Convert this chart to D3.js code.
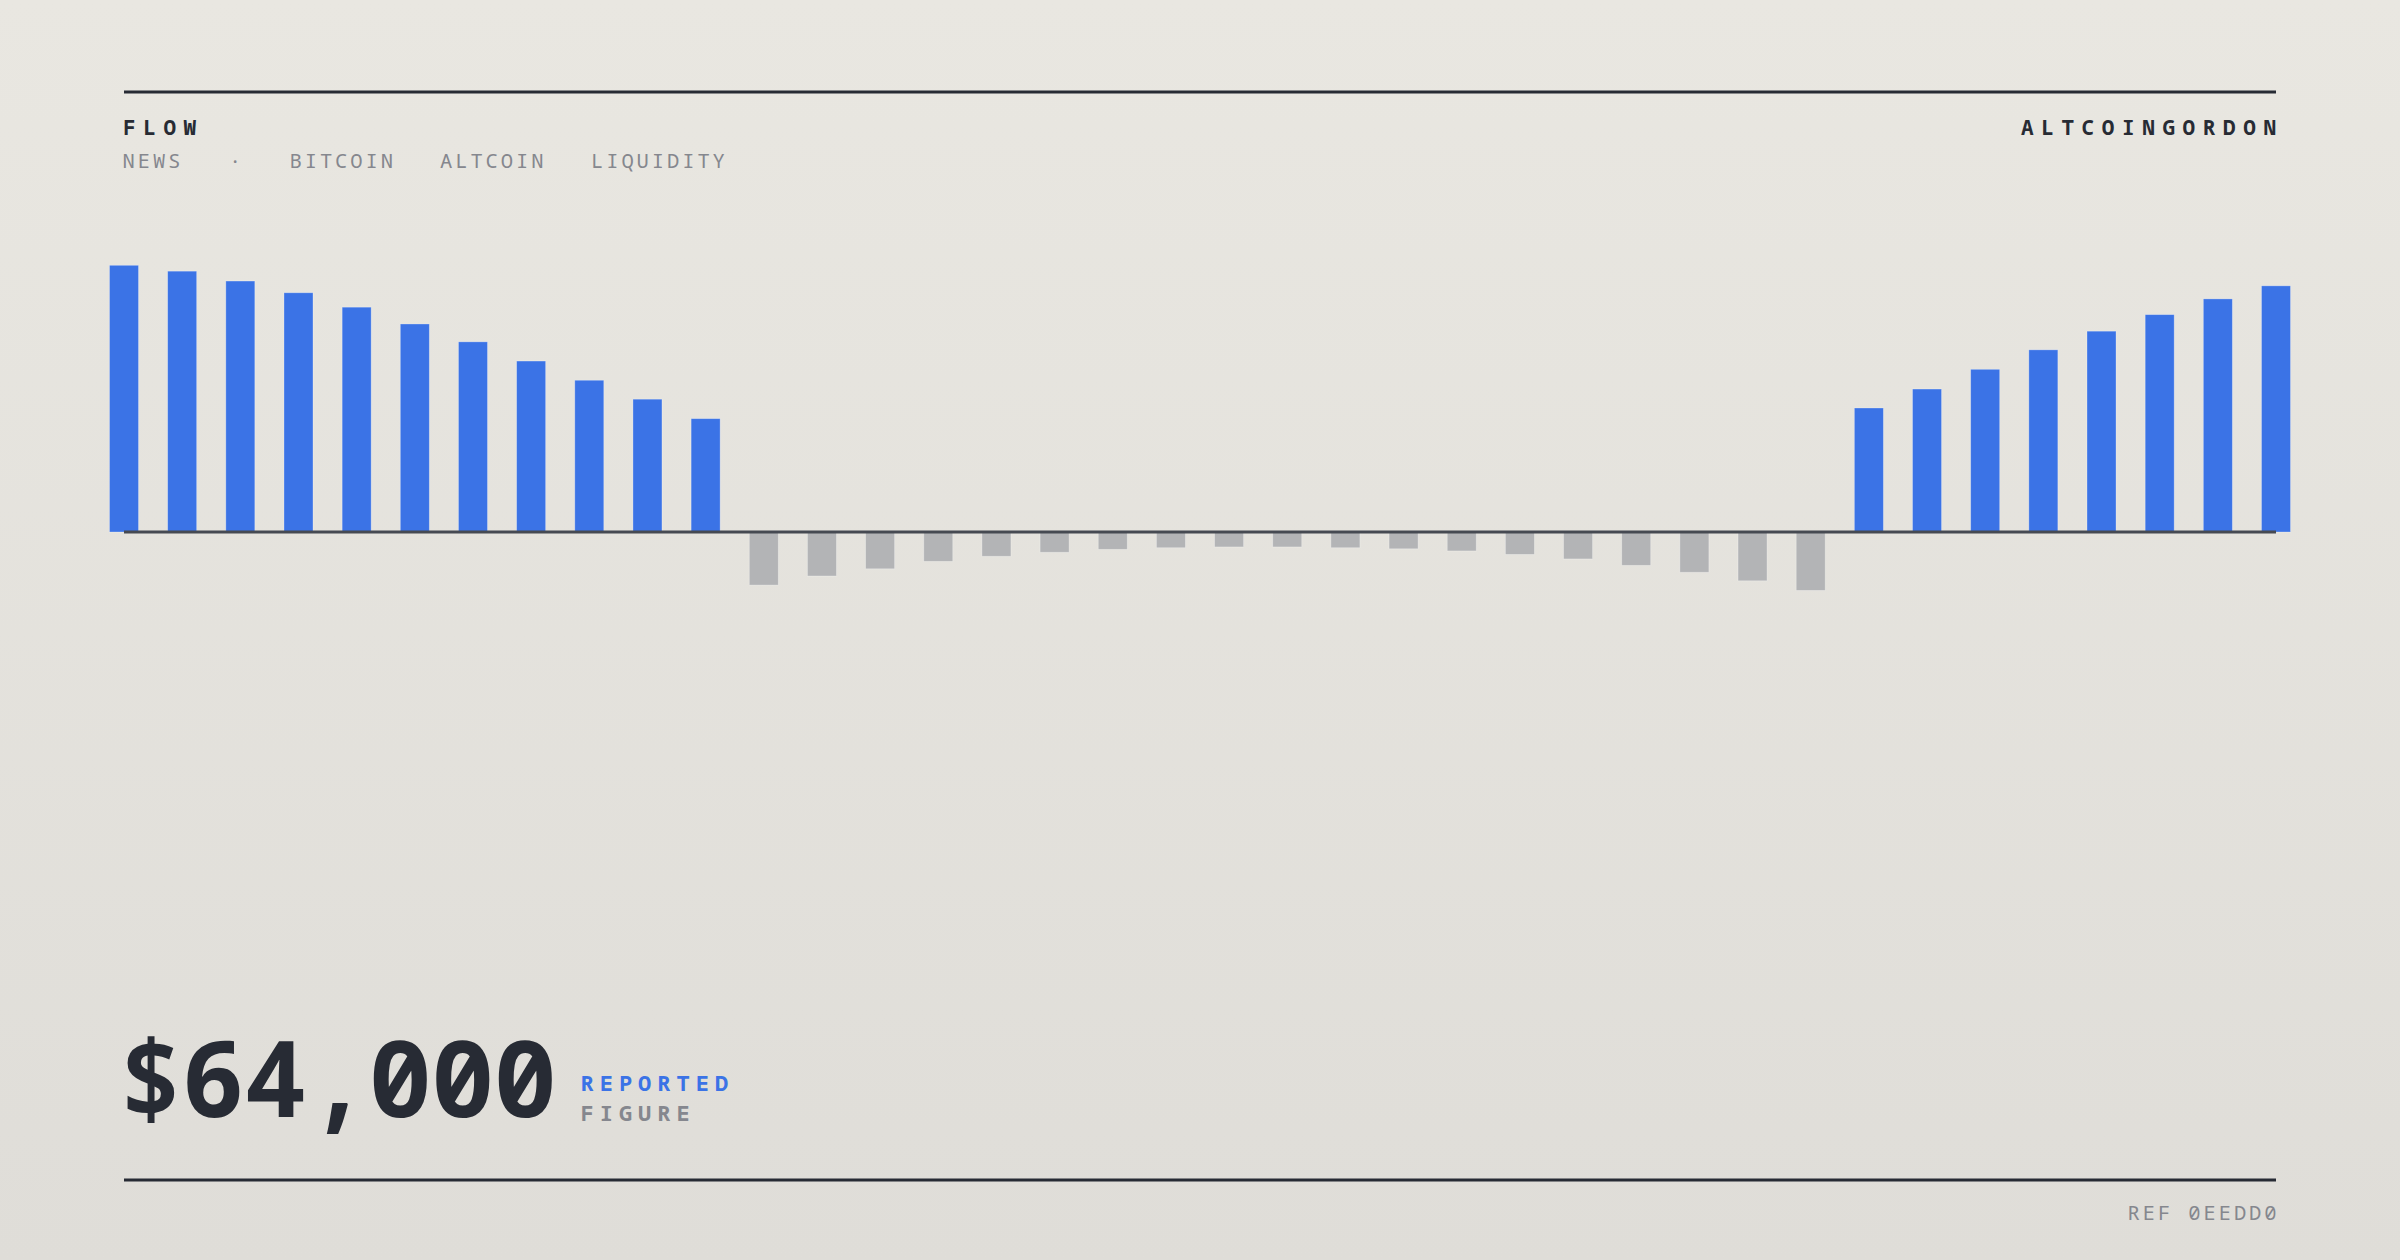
<!DOCTYPE html>
<html>
<head>
<meta charset="utf-8">
<script src="https://cdn.jsdelivr.net/npm/d3@7"></script>
<style>
  html, body { margin: 0; padding: 0; }
  body { width: 2400px; height: 1260px; overflow: hidden; }
  svg { display: block; }
  text { font-family: "Noto Sans Mono", "DejaVu Sans Mono", monospace; }
</style>
</head>
<body>
<script>
// ---- data ----
const flowValues = [
  100, 97.8, 94.1, 89.7, 84.3, 78.0, 71.3, 64.1, 56.9, 49.8, 42.5,
  -19.9, -16.5, -13.8, -11.0, -9.1, -7.6, -6.5, -5.9, -5.6, -5.6, -5.9, -6.3, -7.1, -8.4, -10.1, -12.5, -15.1, -18.3, -21.9,
  46.5, 53.6, 61.0, 68.3, 75.3, 81.5, 87.4, 92.3
];
const periods = flowValues.map((d, i) => i);
const headerTitle = "FLOW";
const headerBrand = "ALTCOINGORDON";
const topicTags = ["NEWS", "·", "BITCOIN", "ALTCOIN", "LIQUIDITY"];
const figureValue = "$64,000";
const figureLabels = ["REPORTED", "FIGURE"];
const refLabel = "REF 0EEDD0";

// ---- layout ----
const W = 2400, H = 1260;
const left = 124, right = 2276;
const zeroY = 532, topY = 265.3;
const barW = 29;

const svg = d3.select("body").append("svg").attr("width", W).attr("height", H);

const defs = svg.append("defs");
const grad = defs.append("linearGradient").attr("id", "bg").attr("x1", 0).attr("y1", 0).attr("x2", 0).attr("y2", 1);
grad.append("stop").attr("offset", "0%").attr("stop-color", "#e9e7e1");
grad.append("stop").attr("offset", "100%").attr("stop-color", "#dfddd8");
svg.append("rect").attr("width", W).attr("height", H).attr("fill", "url(#bg)");

const ink = "#272b34";
const grey = "#85878e";

// rules
svg.append("rect").attr("x", left).attr("y", 90.5).attr("width", right - left).attr("height", 3).attr("fill", ink);
svg.append("rect").attr("x", left).attr("y", 1178.5).attr("width", right - left).attr("height", 3).attr("fill", ink);

// header
svg.append("text").attr("x", 123).attr("y", 134.5)
  .attr("font-size", 21).attr("font-weight", 700).attr("letter-spacing", 7.6)
  .attr("fill", ink).text(headerTitle);
svg.append("text").attr("x", 2021).attr("y", 134.5)
  .attr("font-size", 21).attr("font-weight", 700).attr("letter-spacing", 7.6)
  .attr("fill", ink).text(headerBrand);

const tagX = [122.5, 229, 289.5, 440, 591];
svg.append("g").selectAll("text").data(topicTags).join("text")
  .attr("x", (d, i) => tagX[i]).attr("y", 168)
  .attr("font-size", 20.5).attr("letter-spacing", 2.9)
  .attr("fill", grey).text(d => d);

// scales
const x = d3.scalePoint().domain(periods).range([left, right]);
const y = d3.scaleLinear().domain([0, 100]).range([zeroY, topY]);

svg.append("g").selectAll("rect").data(flowValues).join("rect")
  .attr("x", (d, i) => x(i) - barW / 2)
  .attr("width", barW)
  .attr("y", d => d >= 0 ? y(d) : y(0))
  .attr("height", d => Math.abs(y(d) - y(0)))
  .attr("fill", d => d >= 0 ? "#3b73e6" : "#b3b4b6")
  .attr("stroke", "rgba(255,255,255,0.35)")
  .attr("stroke-width", 0.8);

// axis baseline
svg.append("rect").attr("x", left).attr("y", zeroY - 1.5).attr("width", right - left).attr("height", 3).attr("fill", "#464a52");

// big figure
svg.append("text").attr("x", 119).attr("y", 1117)
  .attr("font-size", 106).attr("font-weight", 700).attr("letter-spacing", -1.2)
  .attr("fill", ink).text(figureValue);
svg.append("text").attr("x", 580.5).attr("y", 1090.5)
  .attr("font-size", 22).attr("font-weight", 700).attr("letter-spacing", 6)
  .attr("fill", "#3b73e6").text(figureLabels[0]);
svg.append("text").attr("x", 580.5).attr("y", 1120.5)
  .attr("font-size", 22).attr("font-weight", 700).attr("letter-spacing", 6)
  .attr("fill", grey).text(figureLabels[1]);

// ref
svg.append("text").attr("x", 2127.5).attr("y", 1220)
  .attr("font-size", 20.5).attr("letter-spacing", 2.9)
  .attr("fill", grey).text(refLabel);
</script>
</body>
</html>
